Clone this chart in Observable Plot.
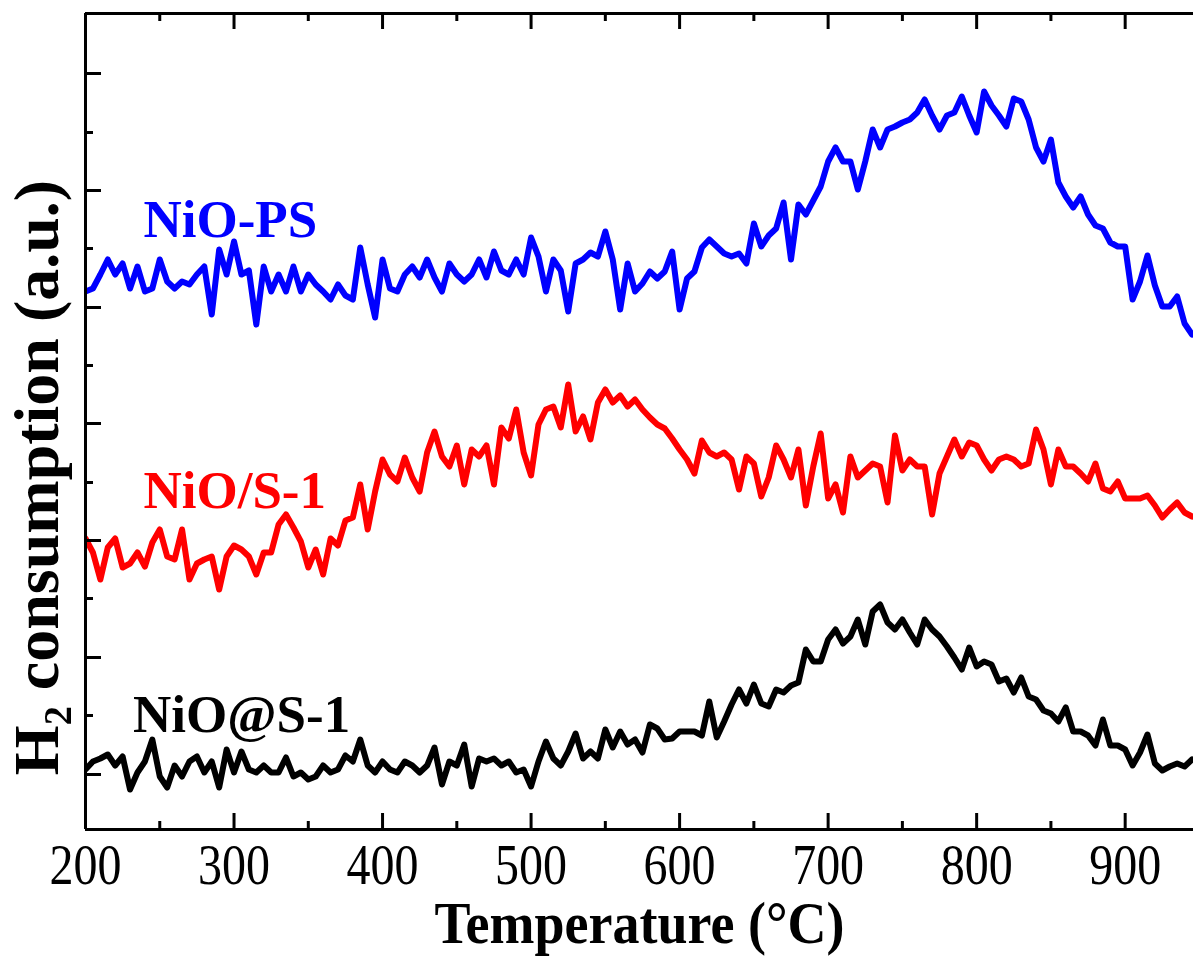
<!DOCTYPE html>
<html><head><meta charset="utf-8">
<script src="https://cdn.jsdelivr.net/npm/d3@7"></script>
<script src="https://cdn.jsdelivr.net/npm/@observablehq/plot@0.6"></script>
<style>
body{margin:0;background:#fff}
#chart svg{display:block}
</style>
</head><body><div id="chart"></div>
<script>
// Temperature grid (°C), one reading every 5 °C
const temps = d3.range(200, 950, 5);

// H2 consumption (arbitrary units)
const nioPS = [538,541,555,570,555,566,541,563,538,541, 570,548,541,548,545,555,563,515,580,555,
  588,555,559,505,563,538,555,538,563,538, 555,545,538,530,545,534,530,582,545,512,
  570,541,538,555,563,552,570,552,538,566, 555,548,555,570,552,578,559,555,570,555,
  592,573,538,570,559,518,566,570,577,573, 598,570,520,566,538,
  546,558,551,558,578,520,551,558,582,590, 583,576,573,576,566,606,583,594,601,627,
  570,625,615,629,643,668,682,668,668,640, 668,700,682,700,703,707,710,717,730,714,
  700,714,717,733,714,697,738,724,714,703, 731,728,710,682,668,690,647,633,622,633,
  615,604,601,587,583,583,530,548,574,544, 523,523,533,506,495];

const nioS1 = [291,277,250,282,291,262,266,277,263,287, 300,273,270,300,250,266,270,273,240,273,
  284,280,273,255,277,277,305,315,302,288, 262,280,255,291,284,309,312,345,300,338,
  370,355,348,372,352,338,377,398,373,363, 384,345,380,373,384,345,402,391,420,377,
  354,405,420,423,402,445,398,413,390,427, 440,427,434,423,430,
  420,412,405,401,391,380,370,356,389,377, 373,377,370,340,373,366,333,352,384,370,
  352,380,324,363,396,331,345,317,373,352, 359,366,363,327,394,359,370,363,363,315,
  356,373,390,373,387,384,370,359,370,373, 370,363,366,400,380,345,380,363,363,356,
  348,366,341,338,348,331,331,331,334,324, 312,320,327,317,313];

const nioAtS1 = [60,68,71,75,64,73,40,57,68,90, 53,42,64,53,68,73,57,68,42,80,
  57,78,60,57,64,57,57,72,53,57, 50,53,64,57,60,74,68,90,64,57,
  68,60,57,68,64,57,64,82,45,68, 64,85,43,71,68,71,64,68,57,60,
  43,68,88,71,64,78,96,71,78,71, 100,82,98,85,90,
  77,105,101,90,91,98,98,98,94,128, 92,108,125,140,126,145,126,123,140,137,
  144,147,180,168,168,190,200,186,193,210, 185,218,225,207,200,210,197,185,210,200,
  193,183,172,160,182,163,168,165,148,151, 137,152,133,130,119,116,108,122,98,98,
  94,84,110,84,84,80,64,77,95,66, 59,63,66,63,70];

const seriesNames = ["NiO-PS", "NiO/S-1", "NiO@S-1"];
const seriesColors = ["#0000ff", "#ff0000", "#000000"];
const seriesValues = [nioPS, nioS1, nioAtS1];

// label anchors (temperature, a.u.)
const labelT = [239, 239, 232];
const labelV = [609, 338, 114];

// axis ticks
const xMajor = [200, 300, 400, 500, 600, 700, 800, 900];
const xMinor = [250, 350, 450, 550, 650, 750, 850];
const yMajor = [55, 172, 289, 406, 522, 639, 756];
const yMinor = [114, 231, 347, 464, 581, 697];
const xDomain = [200, 946];
const yDomain = [0, 816];

const rows = [];
seriesValues.forEach((vals, s) => vals.forEach((v, i) => rows.push({s: seriesNames[s], t: temps[i], v})));
const labels = seriesNames.map((n, i) => ({n, t: labelT[i], v: labelV[i], c: seriesColors[i]}));

const W = 1193, H = 956, mT = 13, mB = 127, mL = 85, mR = 0;
const plotH = H - mT - mB, plotW = W - mL - mR;
const serif = "'Liberation Serif', 'Times New Roman', 'DejaVu Serif', serif";

const chart = Plot.plot({
  width: W, height: H,
  marginTop: mT, marginBottom: mB, marginLeft: mL, marginRight: mR,
  style: {fontFamily: serif, background: "#fff", overflow: "visible"},
  x: {domain: xDomain, axis: null},
  y: {domain: yDomain, axis: null},
  color: {domain: seriesNames, range: seriesColors},
  marks: [
    Plot.line(rows, {x: "t", y: "v", z: "s", stroke: "s", strokeWidth: 6, strokeLinejoin: "round", clip: true}),
    // frame
    Plot.ruleY([yDomain[0]], {stroke: "#000", strokeWidth: 3}),
    Plot.ruleY([yDomain[1]], {stroke: "#000", strokeWidth: 3}),
    Plot.ruleX([xDomain[0]], {stroke: "#000", strokeWidth: 3}),
    // inward ticks bottom / top
    Plot.tickX(xMajor, {x: d => d, insetTop: plotH - 16, stroke: "#000", strokeWidth: 3}),
    Plot.tickX(xMinor, {x: d => d, insetTop: plotH - 8, stroke: "#000", strokeWidth: 3}),
    Plot.tickX(xMajor, {x: d => d, insetBottom: plotH - 16, stroke: "#000", strokeWidth: 3}),
    Plot.tickX(xMinor, {x: d => d, insetBottom: plotH - 8, stroke: "#000", strokeWidth: 3}),
    // inward ticks left
    Plot.tickY(yMajor, {y: d => d, insetRight: plotW - 16, stroke: "#000", strokeWidth: 3}),
    Plot.tickY(yMinor, {y: d => d, insetRight: plotW - 8, stroke: "#000", strokeWidth: 3}),
    // tick labels
    Plot.axisX({anchor: "bottom", ticks: xMajor, tickSize: 0, tickPadding: 17, tickFormat: d => String(d), fontSize: 48, label: null, className: "xticklab"}),
    // axis titles
    Plot.text(["Temperature (°C)"], {frameAnchor: "bottom", dy: 112, fontSize: 54, fontWeight: "bold", fill: "#000", className: "xtitle"}),
    Plot.text(["H₂ consumption (a.u.)"], {frameAnchor: "left", textAnchor: "middle", rotate: -90, dx: -48, dy: 56, fontSize: 64, fontWeight: "bold", fill: "#000"}),
    // series labels
    Plot.text(labels, {x: "t", y: "v", text: "n", fill: "c", textAnchor: "start", fontSize: 53, fontWeight: "bold"})
  ]
});
document.getElementById("chart").appendChild(chart);

// the reference's horizontal texts are a little taller than wide: stretch them vertically
function stretch(sel, k) {
  chart.querySelectorAll(sel).forEach(el => {
    const b = el.getBBox();
    const cy = b.y + b.height / 2;
    const tr = el.getAttribute("transform") || "";
    el.setAttribute("transform", `${tr} translate(0,${cy}) scale(1,${k}) translate(0,${-cy})`);
  });
}
stretch(".xticklab text", 1.2);
stretch(".xtitle text", 1.1);
</script>
</body></html>
